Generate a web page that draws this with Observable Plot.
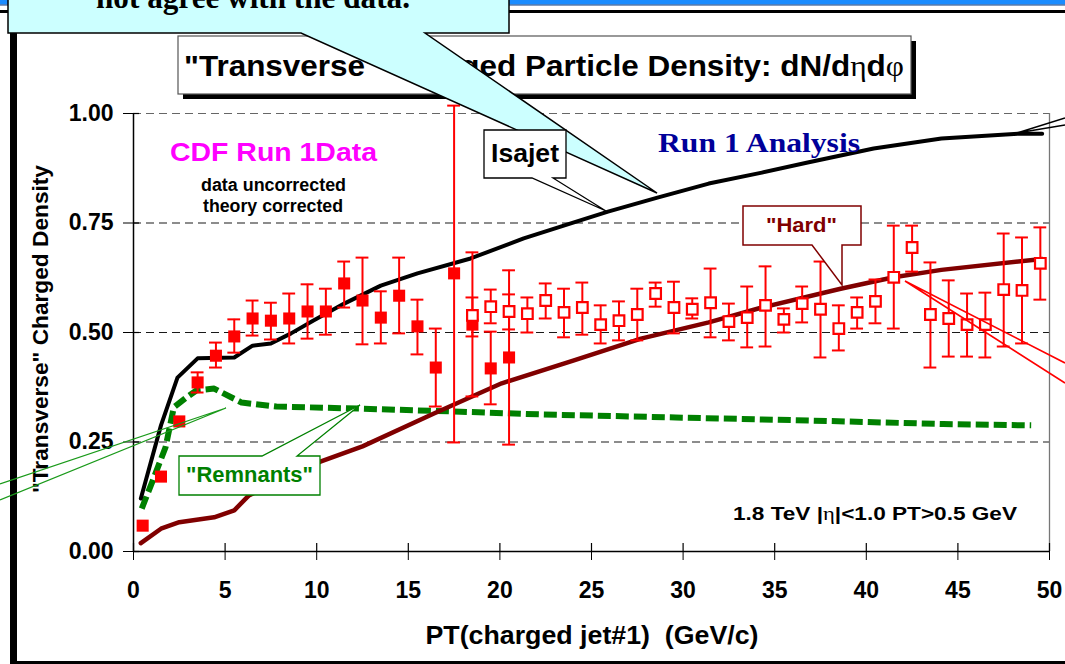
<!DOCTYPE html>
<html><head><meta charset="utf-8">
<script src="https://cdn.jsdelivr.net/npm/d3@7"></script>
<script src="https://cdn.jsdelivr.net/npm/@observablehq/plot@0.6"></script>
<style>
html,body{margin:0;padding:0;background:#fff;overflow:hidden}
#chart{position:relative;width:1065px;height:664px}
svg{display:block}
</style></head><body><div id="chart"></div>
<script>
// ---- data ----
const xTicks = [0,5,10,15,20,25,30,35,40,45,50];
const yTicks = [0,0.25,0.5,0.75,1];
const gridVals = [0.25,0.5,0.75];

// CDF Run 1 data, filled squares
const filledX  = [0.5,1.5,2.5,3.5,4.5,5.5,6.5,7.5,8.5,9.5,10.5,11.5,12.5,13.5,14.5,15.5,16.5,17.5,18.5,19.5,20.5];
const filledY  = [0.059,0.171,0.297,0.386,0.447,0.491,0.532,0.527,0.532,0.548,0.548,0.612,0.573,0.534,0.584,0.514,0.420,0.635,0.518,0.418,0.443];
const filledLo = [null,null,null,0.363,0.420,0.454,0.493,0.484,0.475,0.486,0.495,0.557,0.473,0.475,0.498,0.450,0.331,0.249,0.354,0.336,0.244];
const filledHi = [null,null,null,0.409,0.477,0.530,0.573,0.568,0.589,0.610,0.600,0.662,0.671,0.594,0.671,0.575,0.509,1.018,0.683,0.502,0.642];

// CDF Run 1 data, open squares
const openX  = [18.5,19.5,20.5,21.5,22.5,23.5,24.5,25.5,26.5,27.5,28.5,29.5,30.5,31.5,32.5,33.5,34.5,35.5,36.5,37.5,38.5,39.5,40.5,41.5,42.5,43.5,44.5,45.5,46.5,47.5,48.5,49.5];
const openY  = [0.539,0.559,0.548,0.543,0.573,0.546,0.557,0.518,0.527,0.541,0.589,0.557,0.553,0.568,0.525,0.534,0.562,0.530,0.566,0.553,0.509,0.546,0.571,0.626,0.694,0.541,0.532,0.518,0.518,0.598,0.596,0.658];
const openLo = [0.491,0.521,0.507,0.500,0.532,0.489,0.495,0.475,0.482,0.482,0.559,0.498,0.532,0.489,0.482,0.466,0.468,0.500,0.523,0.443,0.459,0.509,0.521,0.509,0.639,0.420,0.445,0.445,0.443,0.468,0.475,0.575];
const openHi = [0.580,0.598,0.587,0.580,0.612,0.600,0.614,0.562,0.571,0.600,0.614,0.616,0.578,0.646,0.566,0.605,0.651,0.555,0.605,0.662,0.562,0.580,0.621,0.744,0.744,0.660,0.619,0.589,0.591,0.726,0.717,0.740];

// Isajet total
const isajetX = [0.4,1.5,2.4,3.5,5.5,6.5,7.5,8.6,9.8,11.5,13.5,15.5,18.4,21.3,24,25.9,28.6,31.4,34.3,36.8,40.4,44.1,48.3,49.6];
const isajetY = [0.121,0.288,0.397,0.441,0.443,0.470,0.475,0.498,0.527,0.566,0.607,0.635,0.669,0.715,0.751,0.776,0.808,0.840,0.865,0.888,0.920,0.943,0.954,0.954];

// "Remnants" component
const remX = [0.45,1.05,1.75,2.2,2.9,3.45,4.4,5.9,7.8,12.5,17.2,22.2,29.6,36.9,44.2,49];
const remY = [0.098,0.162,0.238,0.329,0.352,0.368,0.372,0.340,0.331,0.326,0.320,0.313,0.306,0.299,0.291,0.288];

// "Hard" component
const hardX = [0.4,1.5,2.5,4.4,5.5,6.3,10.2,12.5,16.4,20.1,24.0,27.7,31.4,34.3,38.6,41.5,44.1,49.6];
const hardY = [0.019,0.052,0.067,0.078,0.094,0.128,0.205,0.240,0.315,0.384,0.436,0.486,0.523,0.557,0.600,0.626,0.643,0.668];

// ---- tables ----
const filled = filledX.map((x,i)=>({x, y:filledY[i], lo:filledLo[i], hi:filledHi[i]}));
const open = openX.map((x,i)=>({x, y:openY[i], lo:openLo[i], hi:openHi[i]}));
const bars = filled.concat(open).filter(d=>d.lo!=null);
const isajet = isajetX.map((x,i)=>({x, y:isajetY[i]}));
const rem = remX.map((x,i)=>({x, y:remY[i]}));
const hard = hardX.map((x,i)=>({x, y:hardY[i]}));

const RED = "#ff0000";
const cap = 0.35;
const SANS = "'Liberation Sans', Arial, sans-serif";
const SERIF = "'Liberation Serif', 'Times New Roman', serif";

const chart = Plot.plot({
  width: 1065, height: 664,
  marginLeft: 133, marginRight: 16, marginTop: 113, marginBottom: 113,
  x: {domain: [0, 50]},
  y: {domain: [0, 1]},
  style: {fontFamily: SANS, background: "transparent", color: "#000", overflow: "visible"},
  marks: [
    Plot.gridY(gridVals, {stroke: "#000", strokeOpacity: 0.9, strokeDasharray: "8,5", strokeWidth: 1}),
    Plot.ruleY([1], {stroke: "#666", strokeDasharray: "8,5", strokeWidth: 1.2}),
    Plot.ruleX([50], {stroke: "#777", strokeWidth: 1.3}),
    Plot.ruleX([0], {stroke: "#000", strokeWidth: 1.5}),
    Plot.ruleY([0], {stroke: "#000", strokeWidth: 1.5}),
    Plot.axisY({ticks: yTicks, tickFormat: d => d.toFixed(2), tickSize: 10, tickPadding: 10,
      fontSize: 23, fontWeight: "bold", label: null}),
    Plot.ruleY(yTicks, {insetRight: 910, stroke: "#000", strokeWidth: 1.2}),
    Plot.axisX({ticks: xTicks, tickFormat: d => String(d), tickSize: 9, tickPadding: 21,
      fontSize: 23, fontWeight: "bold", label: null}),
    Plot.ruleX(xTicks, {insetTop: 430, stroke: "#000", strokeWidth: 1.2}),
    Plot.line(rem, {x: "x", y: "y", stroke: "#008000", strokeWidth: 6, strokeDasharray: "13,5", strokeLinecap: "butt"}),
    Plot.line(hard, {x: "x", y: "y", stroke: "#800000", strokeWidth: 4.5}),
    Plot.line(isajet, {x: "x", y: "y", stroke: "#000", strokeWidth: 4}),
    Plot.ruleX(bars, {x: "x", y1: "lo", y2: "hi", stroke: RED, strokeWidth: 2}),
    Plot.ruleY(bars, {y: "lo", x1: d => d.x - cap, x2: d => d.x + cap, stroke: RED, strokeWidth: 2}),
    Plot.ruleY(bars, {y: "hi", x1: d => d.x - cap, x2: d => d.x + cap, stroke: RED, strokeWidth: 2}),
    Plot.dot(filled, {x: "x", y: "y", symbol: "square", r: 6.8, fill: RED, stroke: "none"}),
    Plot.dot(open, {x: "x", y: "y", symbol: "square", r: 6.0, fill: "#fff", stroke: RED, strokeWidth: 2.2})
  ]
});
document.getElementById("chart").appendChild(chart);

// ---- slide decorations / annotations ----
const svg = d3.select(chart);
function txt(g, s, o) {
  const t = g.append("text").text(s)
    .attr("x", o.x).attr("y", o.y)
    .attr("font-family", o.family || SANS)
    .attr("font-size", o.size).attr("font-weight", o.weight || "bold")
    .attr("fill", o.fill || "#000")
    .attr("text-anchor", o.anchor || "start");
  if (o.len) t.attr("textLength", o.len).attr("lengthAdjust", "spacingAndGlyphs");
  if (o.transform) t.attr("transform", o.transform);
  t.attr("xml:space", "preserve").style("white-space", "pre");
  return t;
}
const deco = svg.append("g");
// slide frame
deco.append("rect").attr("x", 0).attr("y", 0).attr("width", 1065).attr("height", 4.5).attr("fill", "#1a8cff");
deco.append("rect").attr("x", 0).attr("y", 4.5).attr("width", 1065).attr("height", 1).attr("fill", "#0a3a80");
deco.append("rect").attr("x", 0).attr("y", 10).attr("width", 1065).attr("height", 3).attr("fill", "#000");
deco.append("rect").attr("x", 10).attr("y", 10).attr("width", 7).attr("height", 654).attr("fill", "#000");
deco.append("rect").attr("x", 10).attr("y", 661).attr("width", 1055).attr("height", 3).attr("fill", "#000");

// axis titles
txt(deco, "PT(charged jet#1)  (GeV/c)", {x: 592, y: 644, size: 25, anchor: "middle", len: 333});
txt(deco, "\"Transverse\" Charged Density", {x: 0, y: 0, size: 22, anchor: "middle", len: 328,
  transform: "translate(48,329) rotate(-90)"});

// in-chart texts
txt(deco, "CDF Run 1Data", {x: 170, y: 161, size: 26, fill: "#ff00ff", len: 207});
txt(deco, "data uncorrected", {x: 273.5, y: 191, size: 17.5, anchor: "middle", len: 145});
txt(deco, "theory corrected", {x: 273, y: 212, size: 17.5, anchor: "middle", len: 140});
txt(deco, "Run 1 Analysis", {x: 658, y: 152, size: 28, family: SERIF, fill: "#000099", len: 202});
const note = txt(deco, "", {x: 733, y: 520, size: 19, len: 284});
note.append("tspan").text("1.8 TeV |");
note.append("tspan").attr("font-family", SERIF).attr("font-weight", "normal").text("η");
note.append("tspan").text("|<1.0 PT>0.5 GeV");

// pointer lines coming from outside the picture
deco.append("path").attr("d", "M0,484 L226,408 L0,500").attr("fill", "none").attr("stroke", "#1a9a1a").attr("stroke-width", 1.3);
deco.append("path").attr("d", "M1065,363 L905,281 L1065,383").attr("fill", "none").attr("stroke", RED).attr("stroke-width", 1.6);
deco.append("path").attr("d", "M1065,118 L1017,133 L1065,125").attr("fill", "none").attr("stroke", "#000").attr("stroke-width", 1.4);

// title box
deco.append("rect").attr("x", 183).attr("y", 41).attr("width", 733).attr("height", 58).attr("fill", "#000");
deco.append("rect").attr("x", 178).attr("y", 36).attr("width", 733).attr("height", 58).attr("fill", "#fff").attr("stroke", "#555").attr("stroke-width", 1.2);
const title = txt(deco, "", {x: 184, y: 76, size: 30, len: 720});
title.append("tspan").text("\"Transverse\" Charged Particle Density: dN/d");
title.append("tspan").attr("font-family", SERIF).attr("font-weight", "normal").text("η");
title.append("tspan").text("d");
title.append("tspan").attr("font-family", SERIF).attr("font-weight", "normal").text("φ");

// cyan callout at the top (its text runs off the top edge, as in the reference)
deco.append("path").attr("d", "M8,-5 H509 V33 H425 L657,193 L301,33 H8 Z")
  .attr("fill", "#ccffff").attr("stroke", "#000").attr("stroke-width", 1.5);
txt(deco, "not agree with the data.", {x: 96, y: 8, size: 31, family: SERIF, len: 314});

// Isajet callout
deco.append("path").attr("d", "M484,130 H566 V178 H553 L606,211 L532,178 H484 Z")
  .attr("fill", "#fff").attr("stroke", "#000").attr("stroke-width", 1.3);
txt(deco, "Isajet", {x: 525, y: 162, size: 25, anchor: "middle", len: 68});

// Hard callout
deco.append("path").attr("d", "M743,206 H861 V245 H842 V285 L812,245 H743 Z")
  .attr("fill", "#fff").attr("stroke", "#800000").attr("stroke-width", 1.5);
txt(deco, "\"Hard\"", {x: 801.5, y: 232, size: 21, anchor: "middle", fill: "#800000", len: 71});

// Remnants callout
deco.append("path").attr("d", "M179,456 H262 L360,405 L297,456 H320 V495 H179 Z")
  .attr("fill", "#fff").attr("stroke", "#008000").attr("stroke-width", 1.3);
txt(deco, "\"Remnants\"", {x: 249.5, y: 482, size: 21.5, anchor: "middle", fill: "#008000", len: 127});
</script>
</body></html>
